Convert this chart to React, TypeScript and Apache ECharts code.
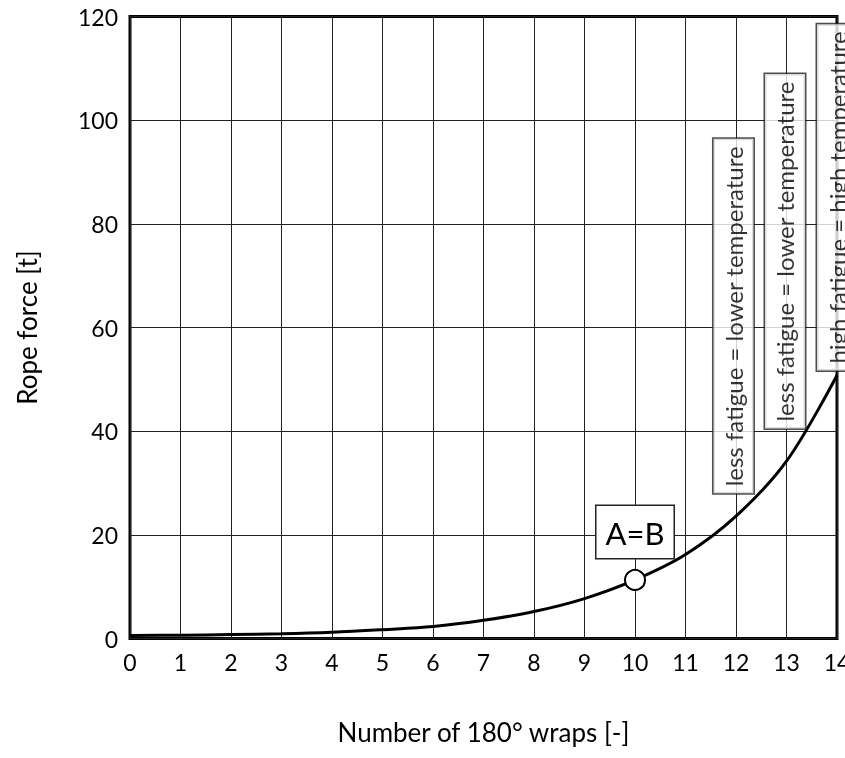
import React, { useEffect, useRef } from "react";
import * as echarts from "echarts";

const wraps = [0, 1, 2, 3, 4, 5, 6, 7, 8, 9, 10, 11, 12, 13, 14];
const ropeForce = [0.6, 0.65, 0.75, 0.9, 1.2, 1.7, 2.3, 3.5, 5.2, 7.7, 11.3, 16.2, 23.6, 34.2, 50.8];
const equalPoint = [10, 11.3];
const equalLabel = "A=B";
const noteTexts = [
  "less fatigue = lower temperature",
  "less fatigue = lower temperature",
  "high fatigue = high temperature",
];
const noteX = [11.95, 12.97, 14];
const noteY = [28, 40.5, 51.7];

const FONT = "Lato, 'Open Sans', sans-serif";

export default function App() {
  const ref = useRef<HTMLDivElement>(null);
  useEffect(() => {
    if (!ref.current) return;
    document.documentElement.style.overflow = "hidden";
    document.body.style.overflow = "hidden";
    document.body.style.margin = "0";
    const chart = echarts.init(ref.current, null, { renderer: "svg", width: 845, height: 758 });
    chart.setOption({
      animation: false,
      textStyle: { fontFamily: FONT, color: "#000" },
      grid: {
        left: 130,
        right: 8,
        top: 16.5,
        bottom: 119.5,
        outerBoundsMode: "none",
        containLabel: false,
        show: true,
        borderColor: "#000",
        borderWidth: 3,
        backgroundColor: "transparent",
      },
      xAxis: {
        type: "value",
        min: 0,
        max: 14,
        interval: 1,
        name: "Number of 180° wraps [-]",
        nameLocation: "middle",
        nameGap: 80,
        nameTextStyle: { fontSize: 26, color: "#000", fontFamily: FONT },
        axisLine: { show: false },
        axisTick: { show: false },
        axisLabel: { fontSize: 23, color: "#000", margin: 12, fontFamily: FONT },
        splitLine: { show: true, lineStyle: { color: "#222", width: 1 } },
      },
      yAxis: {
        type: "value",
        min: 0,
        max: 120,
        interval: 20,
        name: "Rope force [t]",
        nameLocation: "middle",
        nameGap: 90,
        nameTextStyle: { fontSize: 26, color: "#000", fontFamily: FONT },
        axisLine: { show: false },
        axisTick: { show: false },
        axisLabel: { fontSize: 23, color: "#000", margin: 12, fontFamily: FONT },
        splitLine: { show: true, lineStyle: { color: "#222", width: 1 } },
      },
      series: [
        {
          type: "line",
          data: wraps.map((x, i) => [x, ropeForce[i]]),
          smooth: 0.35,
          showSymbol: false,
          symbol: "none",
          lineStyle: { color: "#000", width: 3 },
          z: 3,
        },
        {
          type: "scatter",
          data: [{ value: equalPoint, name: equalLabel }],
          symbol: "circle",
          symbolSize: 20,
          itemStyle: { color: "#fff", borderColor: "#000", borderWidth: 2, opacity: 1 },
          label: {
            show: true,
            formatter: "{b}",
            position: "top",
            distance: 11,
            fontSize: 31,
            color: "#000",
            fontFamily: FONT,
            backgroundColor: "#fff",
            borderColor: "#222",
            borderWidth: 1.5,
            padding: [12, 9, 9, 9],
          },
          z: 5,
        },
        {
          type: "scatter",
          data: noteX.map((x, i) => ({ value: [x, noteY[i]], name: noteTexts[i] })),
          symbolSize: 0,
          itemStyle: { color: "transparent" },
          label: {
            show: true,
            formatter: "{b}",
            position: "inside",
            rotate: 90,
            align: "left",
            verticalAlign: "middle",
            fontSize: 24,
            color: "#000",
            fontFamily: FONT,
            backgroundColor: "#fff",
            borderColor: "#222",
            borderWidth: 1.5,
            padding: [8, 7, 8, 7],
          },
          z: 6,
        },
      ],
    });
    return () => chart.dispose();
  }, []);
  return (
    <div
      ref={ref}
      style={{ position: "fixed", left: 0, top: 0, width: 845, height: 758, overflow: "hidden" }}
    />
  );
}
